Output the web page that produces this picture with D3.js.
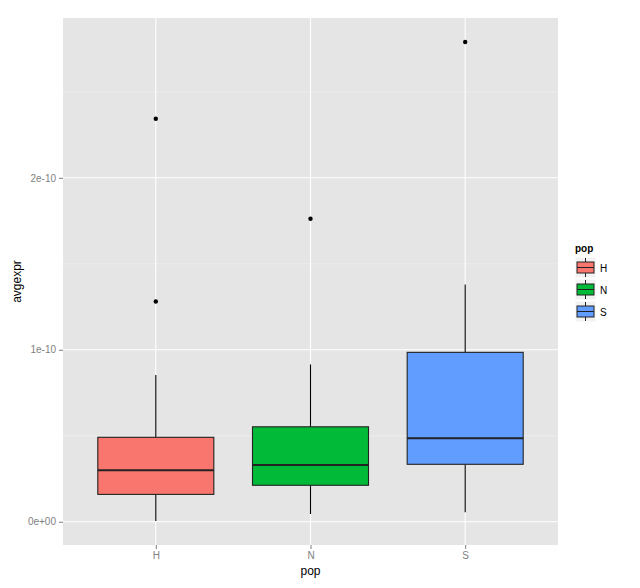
<!DOCTYPE html>
<html>
<head>
<meta charset="utf-8">
<script src="https://cdn.jsdelivr.net/npm/d3@7"></script>
<style>
  body { margin: 0; background: #fff; }
  text { font-family: "Liberation Sans", Arial, sans-serif; }
</style>
</head>
<body>
<svg id="chart" width="640" height="588"></svg>
<script>
// box stats per population
const pops = ["H", "N", "S"];
const colors = ["#F8766D", "#00BA38", "#619CFF"];
const lowWhisker = [0.004e-10, 0.045e-10, 0.055e-10];
const q1 = [0.159e-10, 0.212e-10, 0.334e-10];
const median = [0.300e-10, 0.330e-10, 0.485e-10];
const q3 = [0.491e-10, 0.552e-10, 0.985e-10];
const highWhisker = [0.853e-10, 0.915e-10, 1.38e-10];
const outliers = [[2.343e-10, 1.281e-10], [1.762e-10], [2.79e-10]];
const yTicks = [0, 1e-10, 2e-10];
const yMinor = [0.5e-10, 1.5e-10, 2.5e-10];

const boxes = pops.map((p, i) => ({
  pop: p, color: colors[i],
  lo: lowWhisker[i], q1: q1[i], med: median[i], q3: q3[i], hi: highWhisker[i],
  out: outliers[i]
}));

const svg = d3.select("#chart");
const panel = { left: 63, right: 558, top: 18, bottom: 545 };

// y domain from data plus 5% expansion (ggplot default)
const allVals = boxes.flatMap(d => [d.lo, d.hi, ...d.out]);
const yMin = d3.min(allVals), yMax = d3.max(allVals);
const pad = (yMax - yMin) * 0.05;
const y = d3.scaleLinear().domain([yMin - pad, yMax + pad]).range([panel.bottom, panel.top]);
const x = d3.scalePoint().domain(pops).range([panel.left, panel.right]).padding(0.6);
const boxW = x.step() * 0.75;

// panel background and grid
svg.append("rect")
  .attr("x", panel.left).attr("y", panel.top)
  .attr("width", panel.right - panel.left).attr("height", panel.bottom - panel.top)
  .attr("fill", "#E5E5E5");

svg.append("g").selectAll("line").data(yMinor).enter().append("line")
  .attr("x1", panel.left).attr("x2", panel.right)
  .attr("y1", d => y(d)).attr("y2", d => y(d))
  .attr("stroke", "#F2F2F2").attr("stroke-width", 0.6);

svg.append("g").selectAll("line").data(yTicks).enter().append("line")
  .attr("x1", panel.left).attr("x2", panel.right)
  .attr("y1", d => y(d)).attr("y2", d => y(d))
  .attr("stroke", "#fff").attr("stroke-width", 1.1);

svg.append("g").selectAll("line").data(pops).enter().append("line")
  .attr("x1", d => x(d)).attr("x2", d => x(d))
  .attr("y1", panel.top).attr("y2", panel.bottom)
  .attr("stroke", "#fff").attr("stroke-width", 1.1);

// boxplots
const g = svg.append("g").selectAll("g").data(boxes).enter().append("g");

g.append("line")
  .attr("x1", d => x(d.pop)).attr("x2", d => x(d.pop))
  .attr("y1", d => y(d.hi)).attr("y2", d => y(d.q3))
  .attr("stroke", "#000").attr("stroke-width", 1.1);
g.append("line")
  .attr("x1", d => x(d.pop)).attr("x2", d => x(d.pop))
  .attr("y1", d => y(d.q1)).attr("y2", d => y(d.lo))
  .attr("stroke", "#000").attr("stroke-width", 1.1);

g.append("rect")
  .attr("x", d => x(d.pop) - boxW / 2).attr("width", boxW)
  .attr("y", d => y(d.q3)).attr("height", d => y(d.q1) - y(d.q3))
  .attr("fill", d => d.color)
  .attr("stroke", "#222").attr("stroke-width", 1.1);

g.append("line")
  .attr("x1", d => x(d.pop) - boxW / 2).attr("x2", d => x(d.pop) + boxW / 2)
  .attr("y1", d => y(d.med)).attr("y2", d => y(d.med))
  .attr("stroke", "#222").attr("stroke-width", 2);

g.selectAll("circle").data(d => d.out.map(v => ({ pop: d.pop, v }))).enter().append("circle")
  .attr("cx", d => x(d.pop)).attr("cy", d => y(d.v)).attr("r", 2.2)
  .attr("fill", "#000");

// axes
const fmt = d => d === 0 ? "0e+00" : d3.format(".0e")(d);
const yAxis = svg.append("g")
  .attr("transform", `translate(${panel.left},0)`)
  .call(d3.axisLeft(y).tickValues(yTicks).tickFormat(fmt).tickSize(4).tickPadding(3));
yAxis.select(".domain").remove();
yAxis.selectAll("line").attr("stroke", "#7F7F7F");
yAxis.selectAll("text").attr("fill", "#7F7F7F").style("font-size", "10px")
  .style("font-family", "'Liberation Sans', Arial, sans-serif");

const xAxis = svg.append("g")
  .attr("transform", `translate(0,${panel.bottom})`)
  .call(d3.axisBottom(x).tickSize(4).tickPadding(3));
xAxis.select(".domain").remove();
xAxis.selectAll("line").attr("stroke", "#7F7F7F");
xAxis.selectAll("text").attr("fill", "#7F7F7F").style("font-size", "10px")
  .style("font-family", "'Liberation Sans', Arial, sans-serif");

svg.append("text")
  .attr("x", (panel.left + panel.right) / 2).attr("y", 575)
  .attr("text-anchor", "middle").style("font-size", "12px").text("pop");

svg.append("text")
  .attr("transform", `translate(21,${(panel.top + panel.bottom) / 2}) rotate(-90)`)
  .attr("text-anchor", "middle").style("font-size", "12px").text("avgexpr");

// legend
const legend = svg.append("g").attr("transform", "translate(575,248)");
legend.append("text").attr("x", 0).attr("y", 4)
  .style("font-size", "10px").style("font-weight", "bold").text("pop");

const keys = legend.selectAll(".key").data(boxes).enter().append("g")
  .attr("class", "key")
  .attr("transform", (d, i) => `translate(0,${9 + i * 22})`);
keys.append("rect").attr("width", 21).attr("height", 21).attr("fill", "#F2F2F2")
  .attr("stroke", "#fff").attr("stroke-width", 1);
keys.append("line").attr("x1", 10.5).attr("x2", 10.5).attr("y1", 1).attr("y2", 20)
  .attr("stroke", "#222").attr("stroke-width", 1);
keys.append("rect").attr("x", 2).attr("y", 5).attr("width", 17).attr("height", 11)
  .attr("fill", d => d.color).attr("stroke", "#222").attr("stroke-width", 1);
keys.append("line").attr("x1", 2).attr("x2", 19).attr("y1", 10.5).attr("y2", 10.5)
  .attr("stroke", "#222").attr("stroke-width", 1);
keys.append("text").attr("x", 25).attr("y", 14.5)
  .style("font-size", "10px").text(d => d.pop);
</script>
</body>
</html>
